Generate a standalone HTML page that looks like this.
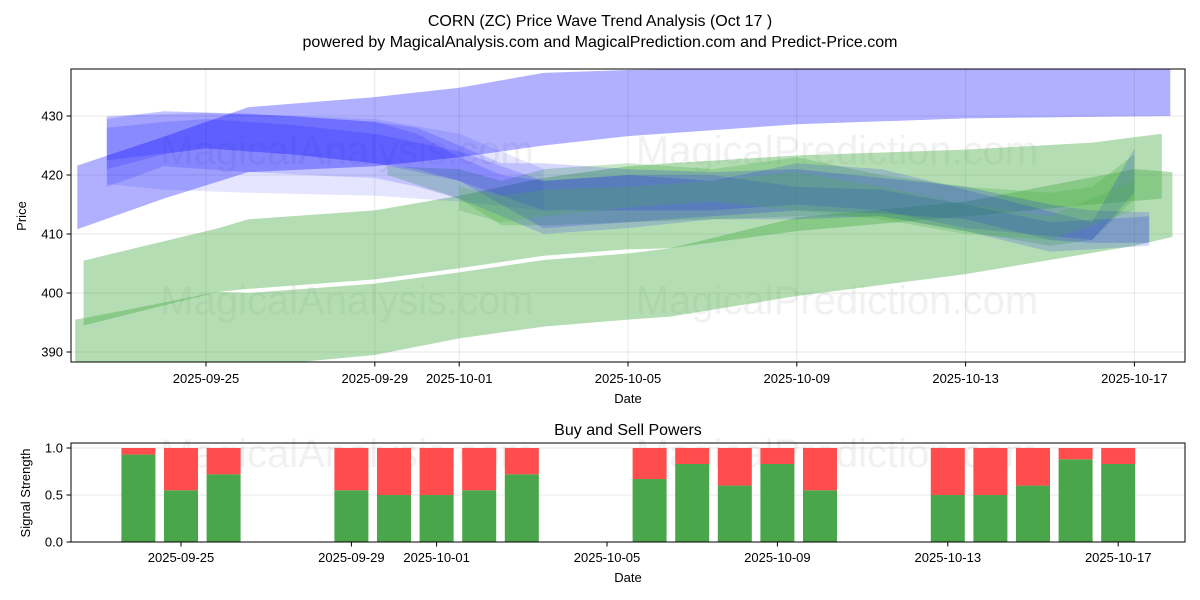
<!DOCTYPE html>
<html><head><meta charset="utf-8"><style>
html,body{margin:0;padding:0;background:#fff;width:1200px;height:600px;overflow:hidden}
svg{display:block;font-family:"Liberation Sans","DejaVu Sans",sans-serif}
</style></head><body>
<svg id="chart" width="1200" height="600" viewBox="0 0 1200 600" xmlns="http://www.w3.org/2000/svg">
<defs>
<clipPath id="clipTop"><rect x="71" y="69" width="1114" height="293"/></clipPath>
<clipPath id="clipBot"><rect x="71" y="443" width="1114" height="99"/></clipPath>
</defs>
<text x="600" y="26" text-anchor="middle" font-size="16" fill="#000">CORN (ZC) Price Wave Trend Analysis (Oct 17 )</text>
<text x="600" y="47" text-anchor="middle" font-size="16" fill="#000">powered by MagicalAnalysis.com and MagicalPrediction.com and Predict-Price.com</text>
<g id="topPanel"></g>
<g id="botPanel"></g>
</svg>
<script>
// ---- data (days relative to 2025-09-25) ----
const tickDays = [0, 4, 6, 10, 14, 18, 22];
const tickLabels = ["2025-09-25","2025-09-29","2025-10-01","2025-10-05","2025-10-09","2025-10-13","2025-10-17"];
const priceTicks = [390, 400, 410, 420, 430];
// blue bands
const blueA_days = [-3.05,-1,1,4,6,8,10,14,18,22.85];
const blueA_up   = [421.6,426.5,431.5,433.2,434.8,437.3,437.8,438.2,438.2,438.2];
const blueA_lo   = [410.8,416,420.5,421.5,423,425,426.6,428.6,429.6,430];
const blueL_days = [-2.35,-1,1,4,6,8];
const blueL_up   = [429.8,430.8,430.3,429.5,427,421];
const blueL_lo   = [418.5,417.5,417,416.5,415.5,414];
const blueB_days = [-2.35,0,2,4,5,6,7,8,10,12,14,16,18,20,21,22.35];
const blueB_up   = [430,430.5,430,429,428,425,422,422,421,420.5,421,419.5,418,415,414,413.7];
const blueB_lo   = [422.5,424.5,423.5,422,421,419,415,411,412,413,414,413.5,412.5,409,408.5,408.5];
const blueC_days = [-2.35,-1,1,3,4,5,6,7,8,10,12,14,16,18,20,22.35];
const blueC_up   = [429.5,430.8,430.4,429.5,429,427,423,420,419,420,420,418,417.5,415,412,413];
const blueC_lo   = [418,421.5,420.5,419.8,419.5,418,416,413,410,411,412.5,412.5,413,410.5,407,408];
const blueD_days = [-2.35,-1,0,2,4,6,8,10,12,14,16,18,21,22];
const blueD_up   = [428,429,429.5,428.5,427,424,419,420,419,422,421,417.5,412,424.5];
const blueD_lo   = [421,423.5,424.5,423.5,422,419,414,414,414,415,414,411,409,417];
// green bands
const greenA_days = [-2.9,0.3,1,4,6,8,10,11,14,18,21,22.65];
const greenA_up   = [405.5,411,412.5,414,416.5,419.5,421.5,422,423.3,424.3,425.5,427];
const greenA_lo   = [394.5,400.2,400.7,402.3,404.2,406.3,407.4,407.6,410.5,413,415,416];
const greenB_days = [-3.1,-2.7,0.3,1,4,6,8,10,11,14,18,22,22.9];
const greenB_up   = [395.5,396,400.2,400,401.6,403.5,405.6,406.7,407.6,412.8,415.5,421,420.5];
const greenB_lo   = [386.5,386.8,387,387.5,389.5,392.3,394.3,395.5,396,399.5,403.2,408,409.5];
const greenD_days = [4.3,6,7,8,10,12,14,16,18,20,21,22];
const greenD_up   = [421.5,421,419,421,422,421,423,420,418,417,418,423.5];
const greenD_lo   = [420,416,411.5,411.5,412,412.5,413,413,410.5,408,409,416];
const greenE_days = [6,7,8,10,12,14,16,18,20,22];
const greenE_up   = [418,416.5,417.5,418,419,420.5,418,415,413,419];
const greenE_lo   = [414,412,413,414.5,415.5,414,412.5,410,409,414];
// signal bars (days relative to 2025-09-25)
const barDays = [-1,0,1,4,5,6,7,8,11,12,13,14,15,18,19,20,21,22];
const buyVals = [0.93,0.55,0.72,0.55,0.5,0.5,0.55,0.72,0.67,0.83,0.6,0.83,0.55,0.5,0.5,0.6,0.88,0.83];
const sigTicks = [0, 0.5, 1.0];

const NS = "http://www.w3.org/2000/svg";
const xT = d => 206 + d * 42.2;
const yT = v => 116 + (430 - v) * 5.9;
const xB = d => 181 + d * 42.6;
const yB = v => 542 - v * 94;
function mk(tag, attrs, parent) {
  const e = document.createElementNS(NS, tag);
  for (const k in attrs) e.setAttribute(k, attrs[k]);
  parent.appendChild(e);
  return e;
}
const topG = document.getElementById('topPanel');
const botG = document.getElementById('botPanel');

priceTicks.forEach(v => {
  const l = mk('line', {x1:71, x2:1185, y1:yT(v), y2:yT(v), stroke:'#b0b0b0', 'stroke-opacity':0.3, 'stroke-width':1}, topG);
  
  
});
tickDays.forEach(d => {
  const l = mk('line', {x1:xT(d), x2:xT(d), y1:69, y2:362, stroke:'#b0b0b0', 'stroke-opacity':0.3, 'stroke-width':1}, topG);
  
  
});
[[347,150,"MagicalAnalysis.com"],[837,150,"MagicalPrediction.com"],[347,300,"MagicalAnalysis.com"],[837,300,"MagicalPrediction.com"],[347,453,"MagicalAnalysis.com"],[837,453,"MagicalPrediction.com"]].forEach(w => {
  const t = mk('text', {x:w[0], y:w[1]+14, 'text-anchor':'middle', 'font-size':40, fill:'#888', 'fill-opacity':0.12}, topG);
  t.textContent = w[2];
  
  
});

const bandsG = mk('g', {'clip-path':'url(#clipTop)'}, topG);
function band(days, up, lo, color, op, name) {
  const pts = [];
  days.forEach((d,i) => pts.push(xT(d).toFixed(1)+','+yT(up[i]).toFixed(1)));
  for (let i = days.length-1; i >= 0; i--) pts.push(xT(days[i]).toFixed(1)+','+yT(lo[i]).toFixed(1));
  const p = mk('polygon', {points: pts.join(' '), fill: color, 'fill-opacity': op}, bandsG);
  
  
}
band(greenA_days, greenA_up, greenA_lo, '#4daf4a', 0.42, 'green-band-upper');
band(greenB_days, greenB_up, greenB_lo, '#4daf4a', 0.42, 'green-band-lower');
band(blueA_days, blueA_up, blueA_lo, '#0000ff', 0.31, 'blue-band-wide');
band(blueL_days, blueL_up, blueL_lo, '#0000ff', 0.1, 'blue-band-light');
band(greenD_days, greenD_up, greenD_lo, '#4daf4a', 0.3, 'green-band-mid');
band(blueB_days, blueB_up, blueB_lo, '#0000ff', 0.16, 'blue-band-2');
band(blueC_days, blueC_up, blueC_lo, '#0000ff', 0.15, 'blue-band-3');
band(blueD_days, blueD_up, blueD_lo, '#0000ff', 0.15, 'blue-band-4');
band(greenE_days, greenE_up, greenE_lo, '#4daf4a', 0.25, 'green-band-5');

const fr = mk('rect', {x:71, y:69, width:1114, height:293, fill:'none', stroke:'#000', 'stroke-width':1}, topG);


priceTicks.forEach(v => {
  mk('line', {x1:66.5, x2:71, y1:yT(v), y2:yT(v), stroke:'#000'}, topG);
  const t = mk('text', {x:63, y:yT(v)+4.5, 'text-anchor':'end', 'font-size':13}, topG);
  t.textContent = v;
  
  
});
tickDays.forEach((d,i) => {
  mk('line', {x1:xT(d), x2:xT(d), y1:362, y2:366.5, stroke:'#000'}, topG);
  const t = mk('text', {x:xT(d), y:383, 'text-anchor':'middle', 'font-size':13}, topG);
  t.textContent = tickLabels[i];
  
  
});
let tx = mk('text', {x:628, y:403, 'text-anchor':'middle', 'font-size':13}, topG);
tx.textContent = 'Date';


tx = mk('text', {x:26, y:216, 'text-anchor':'middle', 'font-size':13, transform:'rotate(-90 26 216)'}, topG);
tx.textContent = 'Price';



tx = mk('text', {x:628, y:435, 'text-anchor':'middle', 'font-size':16}, botG);
tx.textContent = 'Buy and Sell Powers';


sigTicks.forEach(v => {
  const l = mk('line', {x1:71, x2:1185, y1:yB(v), y2:yB(v), stroke:'#b0b0b0', 'stroke-opacity':0.3}, botG);
  
  
});
const barG = mk('g', {'clip-path':'url(#clipBot)'}, botG);
barDays.forEach((d,i) => {
  const x = xB(d) - 17;
  const b = buyVals[i];
  const g = mk('rect', {x:x, y:yB(b), width:34, height:yB(0)-yB(b), fill:'#4aa64a'}, barG);
  
  
  const r = mk('rect', {x:x, y:yB(1), width:34, height:yB(b)-yB(1), fill:'#ff4c4c'}, barG);
  
  
});
const fr2 = mk('rect', {x:71, y:443, width:1114, height:99, fill:'none', stroke:'#000'}, botG);


sigTicks.forEach(v => {
  mk('line', {x1:66.5, x2:71, y1:yB(v), y2:yB(v), stroke:'#000'}, botG);
  const tt = mk('text', {x:63, y:yB(v)+4.5, 'text-anchor':'end', 'font-size':13}, botG);
  tt.textContent = v.toFixed(1);
  
  
});
tickDays.forEach((d,i) => {
  mk('line', {x1:xB(d), x2:xB(d), y1:542, y2:546.5, stroke:'#000'}, botG);
  const tt = mk('text', {x:xB(d), y:562, 'text-anchor':'middle', 'font-size':13}, botG);
  tt.textContent = tickLabels[i];
  
  
});
tx = mk('text', {x:628, y:582, 'text-anchor':'middle', 'font-size':13}, botG);
tx.textContent = 'Date';


tx = mk('text', {x:30, y:493, 'text-anchor':'middle', 'font-size':13, transform:'rotate(-90 30 493)'}, botG);
tx.textContent = 'Signal Strength';


</script>
</body></html>
